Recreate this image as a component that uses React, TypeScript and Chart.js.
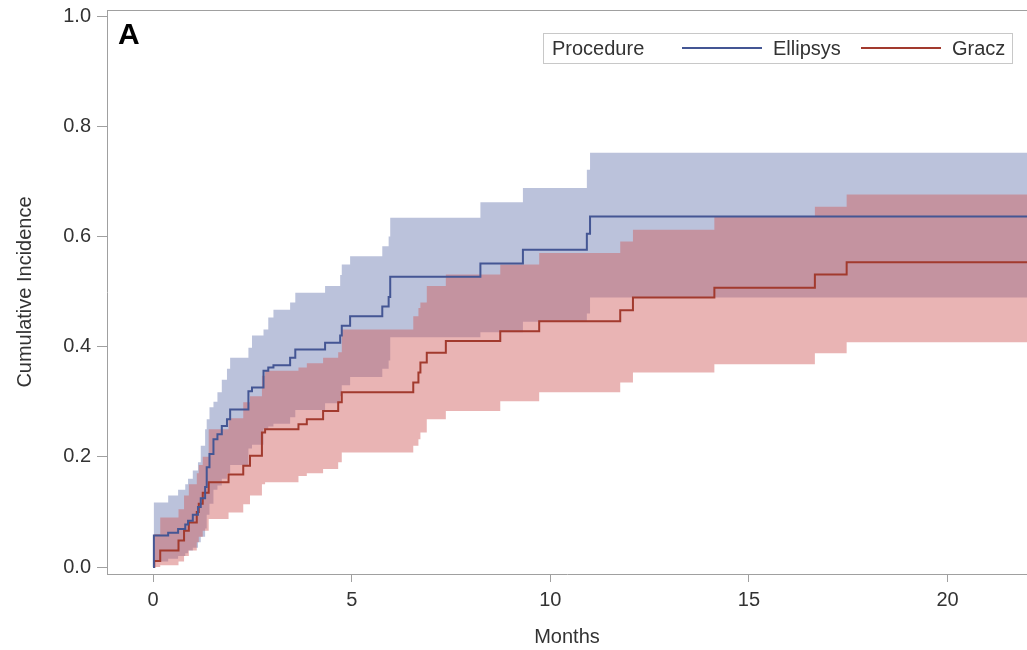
import React, { useEffect, useRef } from "react";
import { Chart, registerables } from "chart.js";

Chart.register(...registerables);

// ---- Data ----
const xTicks = [0, 5, 10, 15, 20];
const yTicks = [0, 0.2, 0.4, 0.6, 0.8, 1.0];

const ellipsysTimes = [0, 0.02, 0.38, 0.63, 0.81, 0.88, 1.0, 1.13, 1.2, 1.31, 1.35, 1.42, 1.52, 1.62, 1.73, 1.86, 1.94, 2.4, 2.49, 2.78, 2.9, 3.03, 3.45, 3.58, 4.33, 4.71, 4.75, 4.96, 5.77, 5.93, 5.97, 8.24, 9.31, 10.92, 11.0, 22.2];
const ellipsysEst = [0, 0.057, 0.062, 0.069, 0.077, 0.084, 0.095, 0.109, 0.125, 0.145, 0.181, 0.205, 0.232, 0.241, 0.256, 0.268, 0.286, 0.319, 0.326, 0.356, 0.362, 0.366, 0.38, 0.395, 0.407, 0.42, 0.438, 0.455, 0.473, 0.49, 0.527, 0.551, 0.576, 0.605, 0.636, 0.636];
const ellipsysUpper = [0, 0.117, 0.13, 0.14, 0.15, 0.16, 0.175, 0.19, 0.22, 0.25, 0.268, 0.29, 0.30, 0.317, 0.34, 0.36, 0.38, 0.398, 0.42, 0.431, 0.453, 0.467, 0.48, 0.498, 0.51, 0.53, 0.549, 0.564, 0.582, 0.60, 0.634, 0.662, 0.688, 0.721, 0.752, 0.752];
const ellipsysLower = [0, 0.01, 0.015, 0.02, 0.025, 0.03, 0.035, 0.045, 0.055, 0.07, 0.095, 0.115, 0.14, 0.148, 0.16, 0.17, 0.185, 0.215, 0.222, 0.25, 0.255, 0.26, 0.272, 0.285, 0.297, 0.31, 0.33, 0.345, 0.36, 0.375, 0.417, 0.426, 0.445, 0.46, 0.489, 0.489];

const graczTimes = [0, 0.03, 0.18, 0.64, 0.78, 0.9, 1.1, 1.15, 1.25, 1.4, 1.9, 2.27, 2.44, 2.74, 2.82, 3.66, 3.87, 4.28, 4.66, 4.75, 6.55, 6.68, 6.73, 6.89, 7.37, 8.74, 9.72, 11.76, 12.08, 14.13, 16.66, 17.46, 22.2];
const graczEst = [0, 0.011, 0.03, 0.048, 0.066, 0.081, 0.1, 0.115, 0.135, 0.154, 0.168, 0.184, 0.202, 0.244, 0.25, 0.259, 0.268, 0.283, 0.299, 0.317, 0.335, 0.353, 0.371, 0.389, 0.41, 0.428, 0.446, 0.466, 0.489, 0.507, 0.531, 0.553, 0.553];
const graczUpper = [0, 0.06, 0.09, 0.105, 0.13, 0.15, 0.17, 0.185, 0.2, 0.25, 0.27, 0.299, 0.31, 0.347, 0.356, 0.362, 0.37, 0.38, 0.39, 0.431, 0.455, 0.47, 0.48, 0.51, 0.531, 0.549, 0.57, 0.591, 0.612, 0.637, 0.654, 0.676, 0.676];
const graczLower = [0, 0, 0.003, 0.01, 0.02, 0.03, 0.045, 0.055, 0.066, 0.087, 0.099, 0.114, 0.13, 0.15, 0.154, 0.165, 0.17, 0.178, 0.19, 0.208, 0.22, 0.232, 0.244, 0.268, 0.283, 0.301, 0.317, 0.335, 0.353, 0.368, 0.388, 0.408, 0.408];

const legendTitle = "Procedure";
const seriesNames = ["Ellipsys", "Gracz"];
const panelLabel = "A";
const xTitle = "Months";
const yTitle = "Cumulative Incidence";

const BLUE = "#445694";
const RED = "#A23A2E";
const BLUE_FILL = "rgba(111,126,179,0.47)";
const RED_FILL = "rgba(208,91,91,0.46)";
const AXIS = "#a0a0a0";
const TEXT = "#333333";
const FONT = "'Liberation Sans', Arial, sans-serif";

const pts = (t: number[], v: number[]) => t.map((x, i) => ({ x, y: v[i] }));

const overlayPlugin = {
  id: "overlay",
  afterDraw(chart: any) {
    const { ctx, chartArea } = chart;
    ctx.save();
    // top frame line
    ctx.strokeStyle = AXIS;
    ctx.lineWidth = 1;
    ctx.beginPath();
    ctx.moveTo(chartArea.left, chartArea.top + 0.5);
    ctx.lineTo(chartArea.right, chartArea.top + 0.5);
    ctx.stroke();

    // panel label
    ctx.fillStyle = "#000";
    ctx.font = `bold 30px ${FONT}`;
    ctx.textBaseline = "alphabetic";
    ctx.textAlign = "left";
    ctx.fillText(panelLabel, 118, 44);

    // legend
    const bx = 543, by = 33, bw = 469, bh = 30;
    ctx.fillStyle = "#fff";
    ctx.fillRect(bx, by, bw, bh);
    ctx.strokeStyle = "#c8c8c8";
    ctx.strokeRect(bx + 0.5, by + 0.5, bw, bh);
    ctx.font = `20px ${FONT}`;
    ctx.fillStyle = TEXT;
    ctx.textBaseline = "middle";
    const cy = by + bh / 2 + 1;
    ctx.fillText(legendTitle, 552, cy);
    const items = [
      { name: seriesNames[0], color: BLUE, x0: 682, x1: 762, tx: 773 },
      { name: seriesNames[1], color: RED, x0: 861, x1: 941, tx: 952 },
    ];
    items.forEach((it) => {
      ctx.strokeStyle = it.color;
      ctx.lineWidth = 2;
      ctx.beginPath();
      ctx.moveTo(it.x0, cy - 1);
      ctx.lineTo(it.x1, cy - 1);
      ctx.stroke();
      ctx.fillStyle = TEXT;
      ctx.fillText(it.name, it.tx, cy);
    });
    ctx.restore();
  },
};

export default function App() {
  const ref = useRef<HTMLCanvasElement | null>(null);
  useEffect(() => {
    if (!ref.current) return;
    const bandBase = {
      pointRadius: 0,
      borderWidth: 1,
      borderColor: "rgba(0,0,0,0)",
      stepped: true,
      tension: 0,
    };
    const chart = new Chart(ref.current, {
      type: "line",
      data: {
        datasets: [
          { label: seriesNames[0], data: pts(ellipsysTimes, ellipsysEst), borderColor: BLUE, borderWidth: 2, pointRadius: 0, stepped: true, fill: false },
          { label: seriesNames[1], data: pts(graczTimes, graczEst), borderColor: RED, borderWidth: 2, pointRadius: 0, stepped: true, fill: false },
          { ...bandBase, label: "gU", data: pts(graczTimes, graczUpper), backgroundColor: RED_FILL, fill: "+1" },
          { ...bandBase, label: "gL", data: pts(graczTimes, graczLower), fill: false },
          { ...bandBase, label: "eU", data: pts(ellipsysTimes, ellipsysUpper), backgroundColor: BLUE_FILL, fill: "+1" },
          { ...bandBase, label: "eL", data: pts(ellipsysTimes, ellipsysLower), fill: false },
        ],
      },
      options: {
        animation: false,
        responsive: false,
        devicePixelRatio: 1,
        layout: { padding: { top: 10, left: 0, right: 0, bottom: 0 } },
        plugins: {
          legend: { display: false },
          tooltip: { enabled: false },
        },
        scales: {
          x: {
            type: "linear",
            min: -1.16,
            max: 22,
            afterBuildTicks: (s: any) => {
              s.ticks = xTicks.map((v) => ({ value: v }));
            },
            afterFit: (s: any) => {
              s.height = 76;
              s.paddingLeft = 0;
              s.paddingRight = 0;
            },
            grid: { drawOnChartArea: false, drawTicks: true, tickLength: 8, color: AXIS },
            border: { display: true, color: AXIS, width: 1 },
            ticks: { font: { family: FONT, size: 20 }, color: TEXT, padding: 6, maxRotation: 0, autoSkip: false },
            title: { display: true, text: xTitle, font: { family: FONT, size: 20 }, color: TEXT, padding: { top: 0, bottom: 1 } },
          },
          y: {
            type: "linear",
            min: -0.0127,
            max: 1.011,
            afterBuildTicks: (s: any) => {
              s.ticks = yTicks.map((v) => ({ value: v }));
            },
            afterFit: (s: any) => {
              s.width = 107;
              s.paddingTop = 0;
              s.paddingBottom = 0;
            },
            grid: { drawOnChartArea: false, drawTicks: true, tickLength: 10, color: AXIS },
            border: { display: true, color: AXIS, width: 1 },
            ticks: {
              font: { family: FONT, size: 20 },
              color: TEXT,
              padding: 6,
              autoSkip: false,
              callback: (v: any) => Number(v).toFixed(1),
            },
            title: { display: true, text: yTitle, font: { family: FONT, size: 20 }, color: TEXT, padding: { top: 13, bottom: 0 } },
          },
        },
      },
      plugins: [overlayPlugin],
    } as any);
    return () => chart.destroy();
  }, []);
  return (
    <div style={{ position: "fixed", left: 0, top: 0, width: 1027, height: 650, background: "#fff" }}>
      <canvas ref={ref} width={1027} height={650} style={{ display: "block", width: 1027, height: 650 }} />
    </div>
  );
}
